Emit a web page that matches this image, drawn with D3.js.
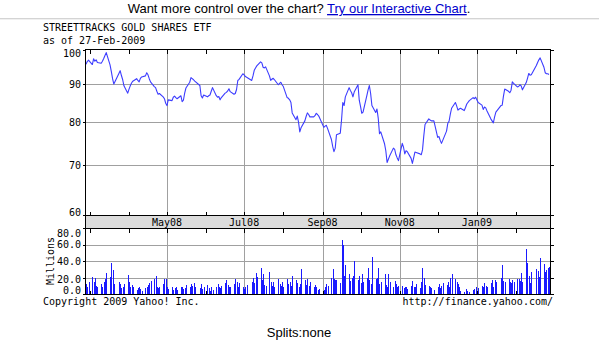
<!DOCTYPE html>
<html>
<head>
<meta charset="utf-8">
<script src="https://cdn.jsdelivr.net/npm/d3@7"></script>
<style>
  body { margin: 0; background: #fff; }
  text { font-family: "DejaVu Sans Mono", monospace; font-size: 10px; fill: #000; }
  .sans { font-family: "Liberation Sans", Arial, sans-serif; font-size: 13px; }
</style>
</head>
<body>
<svg id="chart" width="599" height="340"></svg>
<script>
// trading calendar
const startDate = "2008-02-27";
const endDate = "2009-02-27";
const holidays = ["2008-03-21", "2008-05-26", "2008-07-04", "2008-09-01", "2008-11-27",
  "2008-12-25", "2009-01-01", "2009-01-19", "2009-02-16"];

// daily closes (USD), one row per month
const close0802 = [95.7, 96.5, 96.9];
const close0803 = [95.6, 97.3, 96.6, 97.0, 96.2, 96.0, 96.6, 97.4, 98.3, 99.2, 95.5, 93.6, 91.5, 90.0, 93.0, 93.8, 92.4, 91.2, 89.5, 87.5];
const close0804 = [88.6, 89.5, 90.3, 90.8, 91.5, 91.0, 90.6, 91.6, 92.0, 92.3, 93.2, 92.6, 91.5, 90.6, 89.3, 89.0, 88.0, 87.2, 87.4, 86.5, 86.0, 84.8];
const close0805 = [84.2, 85.7, 85.5, 86.4, 86.7, 86.3, 86.0, 86.8, 85.2, 85.6, 87.5, 88.9, 90.5, 91.8, 91.5, 91.2, 90.8, 89.6, 86.8, 86.2, 87.0];
const close0806 = [86.5, 86.8, 87.0, 88.0, 89.0, 86.8, 86.4, 86.6, 85.7, 86.3, 87.5, 87.7, 88.1, 88.7, 87.9, 87.2, 87.4, 88.5, 91.0, 91.3, 92.9];
const close0807 = [92.6, 92.1, 91.9, 91.0, 92.3, 93.9, 94.6, 95.2, 96.4, 96.1, 94.8, 94.6, 94.9, 92.3, 91.0, 91.4, 91.6, 91.2, 89.8, 90.2, 90.5, 89.8];
const close0808 = [89.3, 86.3, 86.1, 85.7, 85.0, 82.3, 80.6, 81.5, 80.0, 77.6, 78.6, 80.3, 81.4, 82.3, 81.9, 81.3, 81.3, 81.6, 82.2, 81.9, 81.5];
const close0809 = [78.7, 79.0, 79.2, 78.4, 75.8, 74.2, 73.0, 73.8, 76.9, 77.3, 80.5, 85.0, 84.2, 86.5, 89.0, 88.2, 87.6, 86.5, 87.8, 89.8, 85.6];
const close0810 = [84.0, 82.2, 82.5, 86.8, 88.4, 89.6, 87.4, 84.2, 82.4, 83.3, 81.0, 77.2, 77.6, 74.8, 73.2, 70.6, 71.3, 72.0, 73.8, 73.5, 72.3, 71.6, 71.0];
const close0811 = [74.9, 74.0, 72.5, 73.2, 73.0, 71.5, 70.4, 71.6, 72.9, 72.8, 72.5, 72.3, 73.4, 76.6, 79.4, 80.8, 80.5, 80.3, 80.3];
const close0812 = [76.3, 76.5, 75.6, 74.9, 75.6, 77.8, 79.7, 80.2, 82.0, 83.5, 85.0, 84.1, 83.0, 83.3, 83.5, 82.9, 83.7, 84.6, 85.5, 86.3, 86.0, 86.4];
const close0901 = [85.0, 84.3, 83.2, 83.8, 83.6, 82.8, 80.8, 80.3, 79.8, 81.3, 82.5, 84.2, 84.3, 86.7, 88.6, 88.0, 87.6, 88.3, 90.6, 90.2];
const close0902 = [89.2, 89.3, 89.8, 89.5, 88.4, 90.4, 91.6, 93.0, 92.5, 92.6, 95.3, 96.2, 97.0, 97.6, 94.8, 93.2, 92.9, 92.9, 92.7];

// daily volume (millions), one row per month
const vol0802 = [12, 9, 14];
const vol0803 = [21, 15, 19, 10, 9, 12, 8, 15, 18, 26, 21, 37, 29, 12, 15, 12, 7, 9, 12, 23];
const vol0804 = [14, 9, 11, 8, 5, 7, 9, 6, 4, 7, 9, 11, 13, 16, 18, 22, 9, 7, 8, 12, 18, 18];
const vol0805 = [8, 6, 9, 5, 7, 9, 5, 8, 9, 6, 7, 11, 8, 12, 10, 13, 9, 7, 12, 6, 9];
const vol0806 = [11, 7, 4, 9, 5, 8, 12, 9, 7, 10, 13, 17, 11, 9, 8, 12, 18, 14, 9, 13, 8];
const vol0807 = [6, 9, 11, 14, 19, 13, 25, 21, 31, 17, 24, 11, 10, 27, 14, 10, 15, 8, 18, 12, 10, 15];
const vol0808 = [9, 18, 12, 14, 10, 22, 17, 13, 9, 12, 30, 17, 11, 18, 10, 14, 9, 11, 8, 5, 6];
const vol0809 = [5, 8, 12, 10, 20, 30, 18, 17, 17, 13, 66, 59, 22, 35, 24, 16, 19, 22, 40, 17, 22];
const vol0810 = [13, 24, 15, 20, 31, 17, 12, 45, 18, 20, 31, 12, 14, 24, 11, 9, 24, 14, 8, 16, 12, 9, 10];
const vol0811 = [10, 7, 8, 9, 6, 10, 16, 8, 9, 12, 7, 14, 31, 19, 11, 10, 8, 7, 5];
const vol0812 = [9, 12, 7, 10, 13, 11, 14, 9, 20, 24, 18, 15, 12, 8, 4, 3, 6, 4, 3, 5, 6, 8];
const vol0901 = [7, 10, 9, 13, 10, 8, 13, 17, 9, 17, 14, 20, 35, 16, 14, 18, 15, 13, 17, 15];
const vol0902 = [18, 18, 16, 25, 15, 55, 38, 22, 13, 27, 30, 28, 21, 44, 36, 27, 29, 31, 33];

const priceTicks = [60, 70, 80, 90, 100];
const volumeTicks = [0, 20, 40, 60, 80];

const parse = d3.utcParse("%Y-%m-%d");
const fmt = d3.utcFormat("%Y-%m-%d");

const closes = [].concat(close0802, close0803, close0804, close0805, close0806, close0807,
  close0808, close0809, close0810, close0811, close0812, close0901, close0902);
const volumes = [].concat(vol0802, vol0803, vol0804, vol0805, vol0806, vol0807,
  vol0808, vol0809, vol0810, vol0811, vol0812, vol0901, vol0902);

const days = d3.utcDays(parse(startDate), d3.utcDay.offset(parse(endDate), 1))
  .filter(d => d.getUTCDay() % 6 !== 0 && !holidays.includes(fmt(d)));

const data = days.map((d, i) => ({ date: d, close: closes[i], volume: volumes[i] }));

const svg = d3.select("#chart");

// layout
const left = 85.5, right = 550.5;
const pTop = 49.5, pBottom = 215.5;
const bandBottom = 228.5, vBottom = 294.5;

const x = d3.scaleUtc().domain([parse(startDate), parse(endDate)]).range([86, 549]);
const y = d3.scaleLog().domain([60, 100]).range([215, 50]);
const yv = d3.scaleLinear().domain([0, 80]).range([294, 228]);

const months = d3.utcMonth.range(parse("2008-03-01"), parse("2009-03-01"));
const major = months.filter(d => d.getUTCMonth() % 2 === 0 && d.getUTCMonth() !== 2);
const px = d => Math.round(x(d)) + 0.5;

// header
const head = svg.append("text").attr("class", "sans")
  .attr("x", 299).attr("y", 13).attr("text-anchor", "middle");
head.append("tspan").text("Want more control over the chart? ");
head.append("tspan").text("Try our Interactive Chart")
  .style("fill", "#0000cc").style("text-decoration", "underline");
head.append("tspan").text(".");

svg.append("line").attr("x1", 0).attr("x2", 599).attr("y1", 18.5).attr("y2", 18.5)
  .attr("stroke", "#d4d4d4");
svg.append("line").attr("x1", 0).attr("x2", 599).attr("y1", 19.5).attr("y2", 19.5)
  .attr("stroke", "#f0f0f0");

svg.append("text").attr("x", 43).attr("y", 31).text("STREETTRACKS GOLD SHARES ETF");
svg.append("text").attr("x", 43).attr("y", 44).text("as of 27-Feb-2009");

// date band
svg.append("rect").attr("x", left).attr("y", pBottom).attr("width", right - left)
  .attr("height", bandBottom - pBottom).attr("fill", "#dcdcdc");

const grid = svg.append("g").attr("stroke", "#a0a0a0").attr("shape-rendering", "crispEdges");

// horizontal grid
grid.selectAll("line.hp").data(priceTicks.slice(1, -1)).join("line")
  .attr("x1", left).attr("x2", right)
  .attr("y1", d => Math.round(y(d)) + 0.5).attr("y2", d => Math.round(y(d)) + 0.5);
grid.selectAll("line.hv").data(volumeTicks.slice(1, -1)).join("line")
  .attr("x1", left).attr("x2", right)
  .attr("y1", d => Math.round(yv(d)) + 0.5).attr("y2", d => Math.round(yv(d)) + 0.5);

// vertical grid on major months
grid.selectAll("line.vp").data(major).join("line")
  .attr("x1", px).attr("x2", px).attr("y1", pTop).attr("y2", pBottom);
grid.selectAll("line.vv").data(major).join("line")
  .attr("x1", px).attr("x2", px).attr("y1", bandBottom).attr("y2", vBottom);

// month ticks, pointing into the panels
const ticks = svg.append("g").attr("stroke", "#000").attr("shape-rendering", "crispEdges");
[[pTop, 4], [pBottom, -4], [bandBottom, 4], [vBottom, -4]].forEach(([yy, len]) => {
  ticks.append("g").selectAll("line").data(months).join("line")
    .attr("x1", px).attr("x2", px).attr("y1", yy).attr("y2", yy + len);
});

// y ticks on both sides
[[y, priceTicks], [yv, volumeTicks]].forEach(([sc, tv]) => {
  ticks.append("g").selectAll("line").data(tv).join("line")
    .attr("x1", left - 3).attr("x2", left)
    .attr("y1", d => Math.round(sc(d)) + 0.5).attr("y2", d => Math.round(sc(d)) + 0.5);
  ticks.append("g").selectAll("line").data(tv).join("line")
    .attr("x1", right).attr("x2", right + 3)
    .attr("y1", d => Math.round(sc(d)) + 0.5).attr("y2", d => Math.round(sc(d)) + 0.5);
});

// volume bars
svg.append("g").attr("fill", "#1a1aff").attr("shape-rendering", "crispEdges")
  .selectAll("rect").data(data).join("rect")
  .attr("x", d => Math.round(x(d.date)))
  .attr("width", 1)
  .attr("y", d => Math.round(yv(d.volume)))
  .attr("height", d => 294 - Math.round(yv(d.volume)) + 1);

// price line
const line = d3.line().x(d => x(d.date)).y(d => y(d.close));
svg.append("path").datum(data).attr("d", line)
  .attr("fill", "none").attr("stroke", "#3c3cff").attr("stroke-width", 1.1)
  .attr("stroke-linejoin", "round");

// frames
const frame = svg.append("g").attr("fill", "none").attr("stroke", "#000")
  .attr("shape-rendering", "crispEdges");
frame.append("rect").attr("x", left).attr("y", pTop).attr("width", right - left).attr("height", pBottom - pTop);
frame.append("rect").attr("x", left).attr("y", pBottom).attr("width", right - left).attr("height", bandBottom - pBottom);
frame.append("rect").attr("x", left).attr("y", bandBottom).attr("width", right - left).attr("height", vBottom - bandBottom);

// price labels
svg.append("g").selectAll("text").data(priceTicks).join("text")
  .attr("x", 81).attr("text-anchor", "end").attr("dy", "0.35em")
  .attr("y", d => Math.min(212, Math.max(53, y(d))))
  .text(d => d);

// volume labels
svg.append("g").selectAll("text").data(volumeTicks).join("text")
  .attr("x", 81).attr("text-anchor", "end").attr("dy", "0.35em")
  .attr("y", d => Math.min(290, Math.max(233, yv(d) + (d === 20 ? 1.5 : 0))))
  .text(d => d3.format(".1f")(d));

svg.append("text").attr("transform", "translate(54,261) rotate(-90)")
  .attr("text-anchor", "middle").text("Millions");

// month labels
svg.append("g").selectAll("text").data(major).join("text")
  .attr("x", d => x(d)).attr("y", 226).attr("text-anchor", "middle")
  .text(d3.utcFormat("%b%y"));

// footer
svg.append("text").attr("x", 43).attr("y", 305).text("Copyright 2009 Yahoo! Inc.");
svg.append("text").attr("x", 553).attr("y", 305).attr("text-anchor", "end")
  .text("http://finance.yahoo.com/");
svg.append("text").attr("class", "sans").attr("x", 299).attr("y", 337)
  .attr("text-anchor", "middle").text("Splits:none");
</script>
</body>
</html>
